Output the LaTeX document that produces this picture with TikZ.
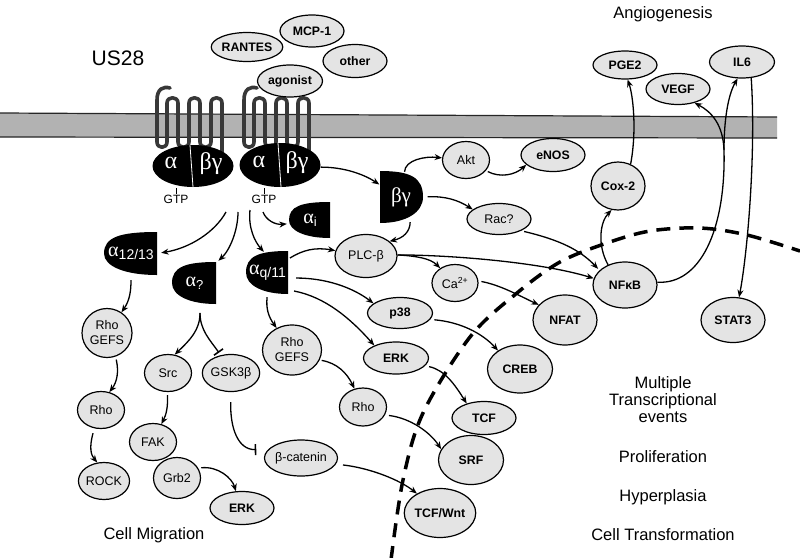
\documentclass[tikz,border=0pt]{standalone}
\usepackage{fontspec}
\setmainfont{Liberation Sans}
\newfontfamily\sergrk{Liberation Serif}
\usetikzlibrary{arrows.meta,shapes.geometric}
\definecolor{molfill}{HTML}{E4E4E4}
\definecolor{memfill}{HTML}{B2B2B2}
\definecolor{rcpcol}{HTML}{383838}
\newcommand\halfD[4]{%
  \fill[black] (#1,#3) -- (#1,#4) .. controls ({#2+0.4*(#1-#2)},#4) and (#2,{#4-0.2*(#4-#3)}) .. (#2,{0.5*(#3+#4)}) .. controls (#2,{#3+0.12*(#4-#3)}) and ({#2+0.3*(#1-#2)},#3) .. cycle;}
\newcommand\drawreceptor{%
  \draw[rcp] (170,88) .. controls (163,86) and (157,89) .. (157,100) -- (157,142)
   .. controls (157,149) and (167,149) .. (167,142) -- (167,103)
   .. controls (167,96) and (178,96) .. (178,103) -- (178,142)
   .. controls (178,149) and (189,149) .. (189,142) -- (189,103)
   .. controls (189,96) and (200,96) .. (200,103) -- (200,142)
   .. controls (200,149) and (211,149) .. (211,142) -- (211,103)
   .. controls (211,96) and (222,96) .. (222,103) -- (222,152);}
\tikzset{
  mol/.style={ellipse, draw=black, fill=molfill, line width=1.2pt, inner sep=0pt, align=center,
              font=\fontsize{12.5}{15}\selectfont},
  bmol/.style={mol, font=\fontsize{12.3}{15}\selectfont\bfseries},
  sz/.style 2 args={minimum width=#1pt, minimum height=#2pt},
  arr/.style={line width=1.3pt, -{Stealth[length=7.5pt,width=6pt]}},
  inh/.style={line width=1.3pt, -{Bar[width=11pt,line width=1.6pt]}},
  lbl/.style={font=\fontsize{16.5}{17}\selectfont, align=center, inner sep=0pt},
  subu/.style={text=white, inner sep=0pt},
  gptxt/.style={text=white, inner sep=0pt, font=\fontsize{24}{24}\selectfont\sergrk},
  rcp/.style={line width=3.6pt, draw=rcpcol, line join=round, line cap=round},
}
\begin{document}
\begin{tikzpicture}[x=1pt,y=-1pt]
\useasboundingbox (0,0) rectangle (800,557);
\fill[white] (0,0) rectangle (800,557);

% membrane
\fill[memfill] (0,113) -- (777,117) -- (777,138) -- (0,137) -- cycle;
\draw[line width=1.2pt, black!85] (0,113) -- (777,117);
\draw[line width=1.2pt, black!85] (0,137) -- (777,138);

% receptors
\drawreceptor
\begin{scope}[xshift=87pt]\drawreceptor\end{scope}

% G proteins
\node[ellipse, fill=black, inner sep=0pt, minimum width=81pt, minimum height=42pt] (GL) at (193,166) {};
\node[ellipse, fill=black, inner sep=0pt, minimum width=81pt, minimum height=44pt] (GR) at (280,165) {};
\draw[white, line width=0.8pt] (190,145) -- (193,187);
\draw[white, line width=0.8pt] (278,143) -- (281,187);
\node[gptxt] (GLa) at (171,163) {α};
\node[gptxt] (GLb) at (211,164) {βγ};
\node[gptxt] (GRa) at (259,162) {α};
\node[gptxt] (GRb) at (297,163) {βγ};
\node[inner sep=1pt, font=\fontsize{12}{12}\selectfont] (gtpL) at (176,199) {GTP};
\node[inner sep=1pt, font=\fontsize{12}{12}\selectfont] (gtpR) at (264,199) {GTP};
\draw[line width=0.9pt] (gtpL.north) -- +(0,-6);
\draw[line width=0.9pt] (gtpR.north) -- +(0,-6);

% G alpha / beta-gamma subunits
\halfD{157}{104}{232}{275}
\halfD{216}{172}{262}{304}
\halfD{288}{246}{251}{294}
\halfD{330}{289}{202}{238}
\halfD{380}{423}{171}{223}
\node[subu, minimum width=52pt, minimum height=41pt] (a1213) at (131,253.5)
  {{\fontsize{20}{20}\selectfont\sergrk α}\raisebox{-0.3em}{\fontsize{14}{14}\selectfont 12/13}};
\node[subu, minimum width=43pt, minimum height=40pt] (aq) at (194.5,283)
  {{\fontsize{20}{20}\selectfont\sergrk α}\raisebox{-0.3em}{\fontsize{13}{13}\selectfont ?}};
\node[subu, minimum width=41pt, minimum height=41pt] (aqq) at (267.5,272.5)
  {{\fontsize{20}{20}\selectfont\sergrk α}\raisebox{-0.3em}{\fontsize{14}{14}\selectfont q/11}};
\node[subu, minimum width=40pt, minimum height=34pt] (ai) at (310,220)
  {{\fontsize{20}{20}\selectfont\sergrk α}\raisebox{-0.3em}{\fontsize{13}{13}\selectfont i}};
\node[subu, minimum width=43pt, minimum height=50pt, font=\fontsize{21}{21}\selectfont\sergrk] (bg) at (401,197) {βγ};

% dashed nuclear membrane
\draw[line width=3.5pt, dash pattern=on 14pt off 9pt] plot[smooth, tension=0.55] coordinates
  {(391,560) (403,480) (423,413) (470,337) (517,293) (560,262) (607,243) (650,231) (700,228) (747,235) (800,251)};

% extracellular
\node[bmol, sz={64}{29}] (rantes) at (247,47) {RANTES};
\node[bmol, sz={64}{32}] (mcp) at (312,31) {MCP-1};
\node[bmol, sz={64}{33}] (other) at (355,61) {other};
\node[bmol, sz={65}{32}] (agon) at (290,81) {agonist};
\node[bmol, sz={64}{28}] (PGE2) at (625,65) {PGE2};
\node[bmol, sz={64}{31}] (VEGF) at (678,89) {VEGF};
\node[bmol, sz={65}{32}] (IL6) at (742,62) {IL6};

% cytoplasm
\node[mol, sz={47}{37}] (Akt) at (466,160) {Akt};
\node[bmol, sz={64}{33}] (eNOS) at (553,155) {eNOS};
\node[bmol, sz={54}{48}] (Cox) at (618,186) {Cox-2};
\node[mol, sz={64}{31}] (Rac) at (499,219) {Rac?};
\node[bmol, sz={64}{46}] (NFkB) at (625,285) {NFκB};
\node[bmol, sz={64}{45}] (STAT3) at (733,320) {STAT3};
\node[mol, sz={46}{37}] (Ca) at (455,283) {Ca\textsuperscript{2+}};
\node[bmol, sz={64}{50}] (NFAT) at (565,320) {NFAT};
\node[bmol, sz={65}{48}] (CREB) at (520,369) {CREB};
\node[mol, sz={62}{43}] (PLC) at (366,256) {PLC-β};
\node[bmol, sz={65}{31}] (p38) at (400,313) {p38};
\node[bmol, sz={65}{32}] (ERK) at (396,358) {ERK};
\node[mol, sz={59}{50}] (GEFSm) at (292,350) {Rho\\GEFS};
\node[mol, sz={47}{38}] (Rhom) at (363,407) {Rho};
\node[bmol, sz={64}{33}] (TCF) at (484,418) {TCF};
\node[bmol, sz={65}{49}] (SRF) at (471,460) {SRF};
\node[bmol, sz={65}{49}] (TCFW) at (440,513) {TCF/Wnt};
\node[mol, sz={66}{36}] (bcat) at (301,458) {β-catenin};
\node[bmol, sz={64}{33}] (ERKl) at (242,508) {ERK};
\node[mol, sz={47}{41}] (Grb2) at (177,478) {Grb2};
\node[mol, sz={47}{37}] (FAK) at (153,442) {FAK};
\node[mol, sz={46}{37}] (ROCK) at (104,481) {ROCK};
\node[mol, sz={47}{37}] (Rhol) at (101,410) {Rho};
\node[mol, sz={47}{37}] (Src) at (168,373) {Src};
\node[mol, sz={47}{37}] (GSK) at (231,373) {GSK3β};
\node[mol, sz={50}{49}] (GEFSl) at (107,333) {Rho\\GEFS};

% labels
\node[lbl, font=\fontsize{21}{21}\selectfont] (us28) at (118,58) {US28};
\node[lbl] (angio) at (663,14) {Angiogenesis};
\node[lbl] (cellmig) at (154,535) {Cell Migration};
\node[lbl] (mte) at (663,400) {Multiple\\Transcriptional\\events};
\node[lbl] (prolif) at (663,457) {Proliferation};
\node[lbl] (hyper) at (663,497) {Hyperplasia};
\node[lbl] (ctrans) at (663,535) {Cell Transformation};

% free ends
\coordinate (g1) at (226,212);
\coordinate (g2) at (238,212);
\coordinate (g3) at (250,210);
\coordinate (g4) at (263,212);
\coordinate (fk) at (200,313);
\coordinate (br) at (724,150);

% connectors
\draw[arr] (GR.-3) .. controls (345,167) and (365,175) .. (bg.150);
\draw[arr] (bg.82) .. controls (405,160) and (425,156) .. (Akt.175);
\draw[arr, shorten <=2pt] (Akt.-28) .. controls (500,178) and (515,175) .. (eNOS.-160);
\draw[arr, shorten <=5pt] (bg.east) .. controls (445,196) and (458,200) .. (Rac.160);
\draw[arr] (bg.-70) .. controls (410,232) and (403,238) .. (PLC.32);
\draw[arr, shorten <=3pt, shorten >=2pt] (Rac.-28) .. controls (560,240) and (580,250) .. (NFkB.150);
\draw[arr] (PLC.2) .. controls (450,255) and (540,262) .. (NFkB.168);
\draw[arr] (PLC.2) .. controls (415,256) and (430,258) .. (Ca.135);
\draw[arr, shorten <=3pt] (Ca.5) .. controls (500,285) and (518,295) .. (NFAT.150);
\draw[arr, shorten <=2pt] (aqq.33) .. controls (303,250) and (315,247) .. (PLC.170);
\draw[arr, shorten <=8pt] (aqq.-15) .. controls (325,278) and (352,287) .. (p38.160);
\draw[arr, shorten <=6pt] (aqq.-40) .. controls (325,297) and (350,318) .. (ERK.150);
\draw[arr, shorten <=4pt] (aqq.south) .. controls (266,308) and (268,316) .. (GEFSm.125);
\draw[arr, shorten <=2pt] (GEFSm.-20) .. controls (337,363) and (347,373) .. (Rhom.115);
\draw[arr, shorten <=4pt] (Rhom.-20) .. controls (410,418) and (430,432) .. (SRF.160);
\draw[arr, shorten <=4pt] (ERK.-15) .. controls (445,370) and (455,385) .. (TCF.140);
\draw[arr, shorten <=4pt] (p38.-12) .. controls (460,322) and (482,333) .. (CREB.140);
\draw[arr, shorten <=7pt] (bcat.-10) .. controls (370,468) and (400,480) .. (TCFW.140);
\draw[inh, shorten <=10pt, shorten >=12pt] (GSK.south) .. controls (230,428) and (238,450) .. (bcat.165);
\draw[arr, shorten <=3pt] (Grb2.25) .. controls (218,466) and (232,478) .. (ERKl.110);
\draw[arr, shorten <=3pt] (Src.-92) .. controls (168,408) and (166,415) .. (FAK.65);
\draw[arr, shorten <=5pt] (Rhol.-110) .. controls (89,448) and (91,455) .. (ROCK.110);
\draw[arr, shorten <=3pt] (GEFSl.-70) .. controls (119,372) and (117,382) .. (Rhol.65);
\draw[arr, shorten <=6pt] (a1213.south) .. controls (131,290) and (130,300) .. (GEFSl.55);
\draw[arr] (fk) .. controls (200,330) and (190,340) .. (Src.70);
\draw[inh, shorten >=3pt] (fk) .. controls (200,330) and (210,340) .. (GSK.120);
\draw[arr, shorten >=4pt] (g1) .. controls (215,232) and (190,248) .. (a1213.east);
\draw[arr, shorten >=3pt] (g2) .. controls (238,230) and (230,250) .. (aq.north east);
\draw[arr] (g3) .. controls (248,228) and (255,242) .. (aqq.100);
\draw[arr, shorten >=3pt] (g4) .. controls (266,220) and (275,225) .. (ai.190);
\draw[arr] (NFkB.130) .. controls (597,245) and (600,222) .. (Cox.-105);
\draw[arr] (Cox.60) .. controls (637,130) and (633,95) .. (PGE2.-80);
\draw[arr] (NFkB.5) .. controls (700,285) and (726,230) .. (br) .. controls (723,125) and (712,112) .. (VEGF.-40);
\draw[arr] (br) .. controls (724,120) and (728,95) .. (IL6.-105);
\draw[arr] (IL6.-60) .. controls (756,150) and (748,250) .. (STAT3.75);
\end{tikzpicture}
\end{document}
